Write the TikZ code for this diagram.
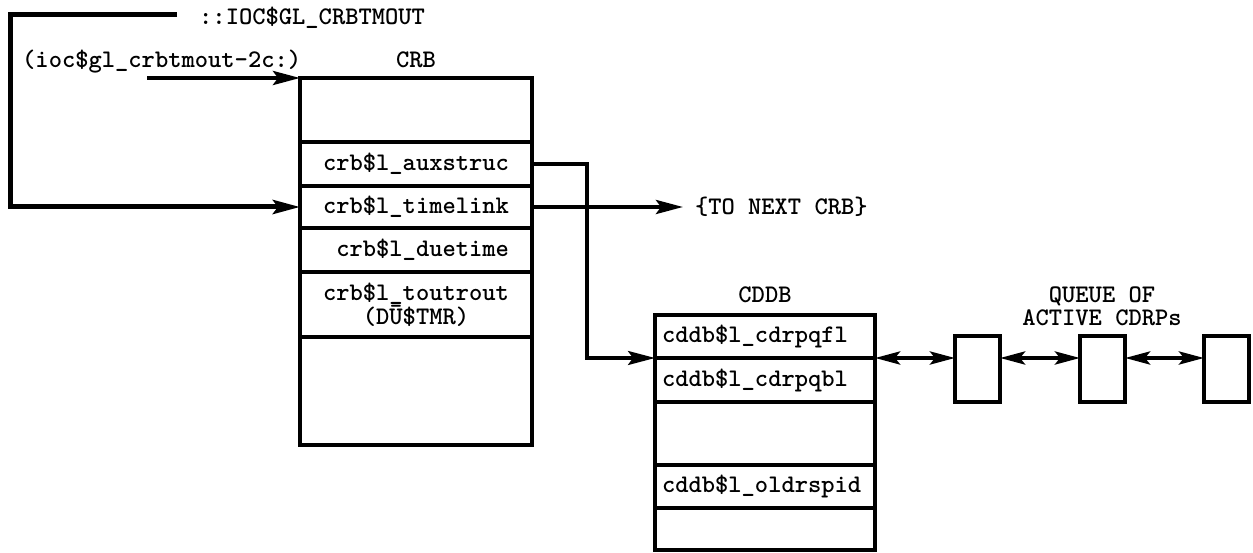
\documentclass[tikz,border=0pt]{standalone}
\usepackage{fontspec}
\usetikzlibrary{arrows.meta}
\begin{document}
\begin{tikzpicture}[x=1pt,y=-1pt,
  font=\ttfamily\bfseries\fontsize{25.3}{23}\selectfont,
  field/.style={draw, line width=4.5pt, inner sep=0pt, outer sep=0pt, align=center},
  crbf/.style={field, minimum width=232pt},
  cddbf/.style={field, minimum width=220pt, text width=206pt, inner xsep=7pt, align=left},
  qbox/.style={draw, line width=4.5pt, inner sep=0pt, outer sep=0pt, minimum width=45pt, minimum height=66pt},
  conn/.style={line width=4pt},
  tip/.style={-{Stealth[length=27pt,width=14pt,inset=5pt]}},
  dbl/.style={line width=4pt, {Stealth[length=25pt,width=13pt,inset=5pt]}-{Stealth[length=25pt,width=13pt,inset=5pt]}},
  lbl/.style={inner sep=0pt, anchor=base}
]
\useasboundingbox (0,0) rectangle (1253,553);

% CRB
\node[crbf, minimum height=64pt] (crb0) at (416,110) {};
\node[crbf, minimum height=44pt] (aux) at (416,164) {crb\$l\_auxstruc};
\node[crbf, minimum height=42pt] (time) at (416,207) {crb\$l\_timelink};
\node[crbf, minimum height=44pt] (due) at (416,250) {\phantom{x}crb\$l\_duetime};
\node[crbf, minimum height=65pt] (tout) at (416,304.5) {crb\$l\_toutrout\\(D\=U\$TMR)};
\node[crbf, minimum height=108pt] (crb5) at (416,391) {};
\node[lbl] (crblbl) at (416,68) {CRB};

% CDDB
\node[cddbf, minimum height=43pt] (c1) at (765,336.5) {cddb\$l\_cdrpqfl};
\node[cddbf, minimum height=44pt] (c2) at (765,380) {cddb\$l\_cdrpqbl};
\node[cddbf, minimum height=63pt] (c3) at (765,433.5) {};
\node[cddbf, minimum height=43pt] (c4) at (765,486.5) {cddb\$l\_oldrspid};
\node[cddbf, minimum height=42pt] (c5) at (765,529) {};
\node[lbl] (cddblbl) at (765,303) {CDDB};

% queue
\node[qbox] (q1) at (977.5,369) {};
\node[qbox] (q2) at (1102.5,369) {};
\node[qbox] (q3) at (1226.5,369) {};
\node[inner sep=0pt, align=center] (qlbl) at (1102,306) {QUEUE OF\\ACTIVE CDRPs};

% labels
\node[lbl, anchor=base west] (ioc) at (199,25) {::IOC\$GL\_CRBTMOUT};
\node[lbl, anchor=base west] (ioc2) at (22,68) {(ioc\$gl\_crbtmout-2c:)};
\node[inner ysep=0pt, inner xsep=12pt, outer sep=0pt, anchor=west] (next) at (683,207) {\{TO NEXT CRB\}};

% connectors
\coordinate (loopstart) at (177,15);
\coordinate (ioc2start) at (147,78);
\draw[conn, line width=5pt, tip] (loopstart) -- (10,15) |- (time.west);
\draw[conn, tip] (ioc2start) -- (crb0.north west);
\draw[conn, tip] (time.east) -- (next.west);
\draw[line width=3.2pt, tip] (aux.east) -- ++(55,0) |- (c1.south west);
\draw[dbl] (c1.south east) -- (q1.west |- c1.south east);
\draw[dbl] (q1.east |- c1.south east) -- (q2.west |- c1.south east);
\draw[dbl] (q2.east |- c1.south east) -- (q3.west |- c1.south east);
\end{tikzpicture}
\end{document}
